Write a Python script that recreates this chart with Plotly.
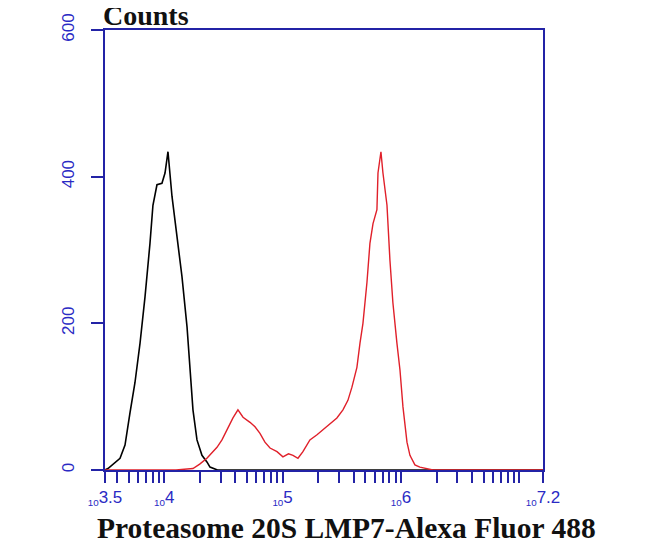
import plotly.graph_objects as go

# log10 of fluorescence intensity and counts
control_log = [3.50, 3.525, 3.627, 3.669, 3.711, 3.753, 3.796, 3.838, 3.880, 3.905, 3.939,
               3.981, 4.007, 4.032, 4.066, 4.091, 4.117, 4.150, 4.193, 4.218, 4.243,
               4.277, 4.319, 4.361, 4.387, 4.45, 4.60, 5.00, 6.00, 7.20]
control_counts = [0, 2, 16, 34, 78, 119, 173, 236, 309, 361, 389,
                  391, 405, 434, 373, 341, 314, 264, 195, 136, 82,
                  41, 20, 11, 4, 0, 0, 0, 0, 0]

sample_log = [3.50, 4.10, 4.243, 4.30, 4.361, 4.446, 4.488, 4.530, 4.581, 4.623, 4.666,
              4.725, 4.767, 4.809, 4.851, 4.894, 4.953, 5.003, 5.050, 5.088, 5.130,
              5.172, 5.231, 5.291, 5.341, 5.400, 5.459, 5.510, 5.552, 5.586, 5.628,
              5.654, 5.679, 5.713, 5.738, 5.764, 5.797, 5.806, 5.831, 5.848, 5.882,
              5.907, 5.932, 5.966, 5.992, 6.017, 6.051, 6.076, 6.118, 6.160, 6.27, 7.20]
sample_counts = [0, 0, 2, 8, 16, 31, 41, 55, 71, 82, 72,
                 65, 59, 50, 38, 30, 25, 18, 22, 20, 16,
                 25, 41, 48, 55, 64, 71, 82, 95, 113, 140,
                 173, 200, 256, 309, 336, 355, 405, 434, 405, 361,
                 286, 228, 173, 136, 86, 38, 20, 7, 4, 0, 0]

x_tick_labels = {3.5: "3.5", 4: "4", 5: "5", 6: "6", 7.2: "7.2"}
y_ticks = [0, 200, 400, 600]

axis_blue = "#2323a6"
label_blue = "#2a2ac4"


def lab(s):
    return "<span style='font-size:14px'><sub>10</sub></span>" + s


tickvals = [10 ** 3.5]
ticktext = [lab(x_tick_labels[3.5])]
for dec in [3, 4, 5, 6]:
    for m in range(1, 10):
        v = m * 10 ** dec
        if v < 10 ** 3.5 or v > 10 ** 7.2:
            continue
        tickvals.append(v)
        if m == 1 and dec in x_tick_labels:
            ticktext.append(lab(x_tick_labels[dec]))
        else:
            ticktext.append("")
tickvals.append(10 ** 7)
ticktext.append("")
tickvals.append(10 ** 7.2)
ticktext.append(lab(x_tick_labels[7.2]))

fig = go.Figure()
fig.add_trace(go.Scatter(x=[10 ** v for v in control_log], y=control_counts,
                         mode="lines", line=dict(color="black", width=1.6), showlegend=False))
fig.add_trace(go.Scatter(x=[10 ** v for v in sample_log], y=sample_counts,
                         mode="lines", line=dict(color="#e0202a", width=1.4), showlegend=False))

fig.update_layout(
    width=642, height=541,
    margin=dict(l=97, r=107, t=22, b=79),
    plot_bgcolor="white", paper_bgcolor="white",
    xaxis=dict(type="log", range=[3.5, 7.2], tickvals=tickvals, ticktext=ticktext,
               automargin=False,
               ticks="outside", ticklen=11, tickwidth=1.5, tickcolor=axis_blue,
               showline=True, linecolor=axis_blue, linewidth=1.5, mirror=True,
               showgrid=False, zeroline=False,
               tickfont=dict(family="Liberation Sans", size=17, color=label_blue)),
    yaxis=dict(range=[0, 600], tickvals=y_ticks, ticks="outside", ticklen=12,
               automargin=False,
               tickwidth=1.5, tickcolor=axis_blue, tickangle=-90, ticklabelstandoff=10,
               showline=True, linecolor=axis_blue, linewidth=1.5, mirror=True,
               showgrid=False, zeroline=False,
               tickfont=dict(family="Liberation Sans", size=17, color=label_blue)),
    annotations=[
        dict(text="<b>Counts</b>", xref="paper", yref="paper", x=-0.008, y=1.0,
             xanchor="left", yanchor="bottom", showarrow=False, yshift=-3,
             font=dict(family="Liberation Serif", size=28, color="#111111")),
        dict(text="<b>Proteasome 20S LMP7-Alexa Fluor 488</b>", xref="paper", yref="paper",
             x=0.5, y=0, xanchor="center", yanchor="top", showarrow=False, yshift=-40,
             xshift=22,
             font=dict(family="Liberation Serif", size=29.5, color="#111111")),
    ],
)
fig.write_html("out.html")
